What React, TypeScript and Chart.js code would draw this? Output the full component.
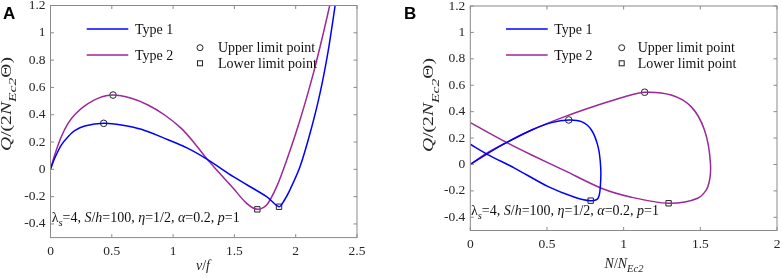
import React, { useEffect, useRef } from "react";
import { Chart, registerables } from "chart.js";
Chart.register(...registerables);

// ---------- data ----------
const yTicks = [-0.4, -0.2, 0, 0.2, 0.4, 0.6, 0.8, 1, 1.2];
const xTicksA = [0, 0.5, 1, 1.5, 2, 2.5];
const xTicksB = [0, 0.5, 1, 1.5, 2];

// Panel A: Q/(2N_Ec2 Θ) versus v/f
const aType1V = [0, 0.034, 0.088, 0.143, 0.197, 0.279, 0.434, 0.578, 0.741, 0.931, 1.121, 1.279, 1.491, 1.763, 1.864, 1.905, 1.953, 2.035, 2.117, 2.198, 2.266, 2.33];
const aType1Q = [0, 0.081, 0.178, 0.239, 0.283, 0.317, 0.337, 0.325, 0.293, 0.227, 0.154, 0.073, -0.054, -0.2, -0.274, -0.23, -0.15, 0.019, 0.264, 0.557, 0.874, 1.25];
const aType2V = [0, 0.034, 0.088, 0.143, 0.197, 0.279, 0.387, 0.51, 0.659, 0.795, 0.931, 1.067, 1.176, 1.279, 1.356, 1.491, 1.6, 1.687, 1.763, 1.845, 1.927, 2.035, 2.144, 2.225, 2.29];
const aType2Q = [0, 0.105, 0.239, 0.337, 0.4, 0.465, 0.52, 0.544, 0.52, 0.471, 0.398, 0.3, 0.19, 0.073, -0.005, -0.139, -0.249, -0.293, -0.261, -0.127, 0.068, 0.361, 0.703, 0.996, 1.25];
const aUpperV = [0.434, 0.51];
const aUpperQ = [0.337, 0.544];
const aLowerV = [1.864, 1.687];
const aLowerQ = [-0.274, -0.293];

// Panel B: Q/(2N_Ec2 Θ) versus N/N_Ec2
const bType1N = [0, 0.107, 0.226, 0.4, 0.53, 0.642, 0.725, 0.79, 0.833, 0.85, 0.848, 0.833, 0.785, 0.681, 0.508, 0.291, 0.107, 0];
const bType1Q = [0, 0.079, 0.16, 0.261, 0.317, 0.337, 0.324, 0.261, 0.135, -0.017, -0.168, -0.256, -0.274, -0.248, -0.168, -0.029, 0.079, 0.153];
const bType2N = [0, 0.107, 0.226, 0.4, 0.616, 0.833, 1.007, 1.137, 1.31, 1.44, 1.527, 1.566, 1.549, 1.483, 1.293, 1.05, 0.855, 0.616, 0.4, 0.226, 0];
const bType2Q = [0, 0.085, 0.16, 0.261, 0.362, 0.45, 0.513, 0.547, 0.526, 0.438, 0.261, 0.009, -0.168, -0.256, -0.294, -0.248, -0.18, -0.047, 0.072, 0.173, 0.317];
const bUpperN = [0.642, 1.137];
const bUpperQ = [0.337, 0.547];
const bLowerN = [0.785, 1.293];
const bLowerQ = [-0.274, -0.294];

const seriesNames = ["Type 1", "Type 2"];
const markerNames = ["Upper limit point", "Lower limit point"];
const BLUE = "#0000ff";
const PURPLE = "#9b2799";
const SERIF = '"Liberation Serif", "Times New Roman", serif';
const TXT = "#262626";

type Seg = { t: string; it?: boolean; sub?: boolean };

const yTitleSegs: Seg[] = [
  { t: "Q", it: true }, { t: "/(2" }, { t: "N", it: true }, { t: "Ec2", it: true, sub: true }, { t: "Θ)" },
];
const noteSegs: Seg[] = [
  { t: "λ" }, { t: "s", it: true, sub: true }, { t: "=4, " }, { t: "S", it: true }, { t: "/" }, { t: "h", it: true },
  { t: "=100, " }, { t: "η", it: true }, { t: "=1/2, " }, { t: "α", it: true }, { t: "=0.2, " }, { t: "p", it: true }, { t: "=1" },
];
const xTitleA: Seg[] = [{ t: "v", it: true }, { t: "/" }, { t: "f", it: true }];
const xTitleB: Seg[] = [{ t: "N", it: true }, { t: "/" }, { t: "N", it: true }, { t: "Ec2", it: true, sub: true }];

const zip = (xs: number[], ys: number[]) => xs.map((x, i) => ({ x, y: ys[i] }));
const fmt = (v: number) => String(Math.round(v * 10) / 10);

function segFont(s: Seg, size: number, subRatio: number) {
  const sz = s.sub ? size * subRatio : size;
  return `${s.it ? "italic " : ""}${sz}px ${SERIF}`;
}
function drawRich(
  ctx: CanvasRenderingContext2D,
  segs: Seg[],
  x: number,
  y: number,
  size: number,
  align: "left" | "center",
  subRatio = 0.75,
  subShift = 0.32
) {
  let total = 0;
  const ws = segs.map((s) => {
    ctx.font = segFont(s, size, subRatio);
    const w = ctx.measureText(s.t).width;
    total += w;
    return w;
  });
  let cx = align === "center" ? x - total / 2 : x;
  ctx.textAlign = "left";
  ctx.textBaseline = "alphabetic";
  segs.forEach((s, i) => {
    ctx.font = segFont(s, size, subRatio);
    ctx.fillText(s.t, cx, y + (s.sub ? size * subShift : 0));
    cx += ws[i];
  });
}

interface PanelCfg {
  offset: number;
  label: string;
  labelX: number;
  xMax: number;
  xTicks: number[];
  s1: { x: number; y: number }[];
  s2: { x: number; y: number }[];
  up: { x: number; y: number }[];
  lo: { x: number; y: number }[];
  plot: { left: number; right: number; top: number; bottom: number };
  leg: { l0: number; l1: number; tx: number; mx: number; mtx: number };
  yTitle: { x: number; y: number };
  xTitle: { x: number; y: number; segs: Seg[] };
  note: { x: number; y: number };
}

const W = 391;
const H = 278;

const panelA: PanelCfg = {
  offset: 0,
  label: "A",
  labelX: 3,
  xMax: 2.5,
  xTicks: xTicksA,
  s1: zip(aType1V, aType1Q),
  s2: zip(aType2V, aType2Q),
  up: zip(aUpperV, aUpperQ),
  lo: zip(aLowerV, aLowerQ),
  plot: { left: 50.5, right: 357, top: 5.5, bottom: 237.6 },
  leg: { l0: 86.7, l1: 128.3, tx: 135, mx: 200, mtx: 218 },
  yTitle: { x: 10.5, y: 104 },
  xTitle: { x: 203, y: 270, segs: xTitleA },
  note: { x: 51.7, y: 221.5 },
};
const panelB: PanelCfg = {
  offset: 391,
  label: "B",
  labelX: 13,
  xMax: 2,
  xTicks: xTicksB,
  s1: zip(bType1N, bType1Q),
  s2: zip(bType2N, bType2Q),
  up: zip(bUpperN, bUpperQ),
  lo: zip(bLowerN, bLowerQ),
  plot: { left: 79.3, right: 386.7, top: 6, bottom: 230.5 },
  leg: { l0: 115, l1: 156.7, tx: 163.3, mx: 230.7, mtx: 246.7 },
  yTitle: { x: 42, y: 105 },
  xTitle: { x: 233, y: 268, segs: xTitleB },
  note: { x: 80, y: 215 },
};

function Panel({ cfg }: { cfg: PanelCfg }) {
  const ref = useRef<HTMLCanvasElement>(null);
  useEffect(() => {
    const deco = {
      id: "deco",
      afterDraw(chart: any) {
        const ctx: CanvasRenderingContext2D = chart.ctx;
        const a = chart.chartArea;
        const xs = chart.scales.x;
        const ys = chart.scales.y;
        ctx.save();
        // box
        ctx.strokeStyle = "#8a8a8a";
        ctx.lineWidth = 1;
        ctx.strokeRect(a.left, a.top, a.right - a.left, a.bottom - a.top);
        const tl = 3.5;
        ctx.beginPath();
        cfg.xTicks.forEach((v) => {
          const px = xs.getPixelForValue(v);
          ctx.moveTo(px, a.bottom);
          ctx.lineTo(px, a.bottom - tl);
          ctx.moveTo(px, a.top);
          ctx.lineTo(px, a.top + tl);
        });
        yTicks.forEach((v) => {
          const py = ys.getPixelForValue(v);
          ctx.moveTo(a.left, py);
          ctx.lineTo(a.left + tl, py);
          ctx.moveTo(a.right, py);
          ctx.lineTo(a.right - tl, py);
        });
        ctx.stroke();

        // legend lines
        const L = cfg.leg;
        [29, 55].forEach((y, i) => {
          ctx.strokeStyle = i === 0 ? BLUE : PURPLE;
          ctx.lineWidth = 1.5;
          ctx.beginPath();
          ctx.moveTo(L.l0, y);
          ctx.lineTo(L.l1, y);
          ctx.stroke();
          ctx.font = `14px ${SERIF}`;
          ctx.textAlign = "left";
          ctx.textBaseline = "middle";
          ctx.fillStyle = "#111";
          ctx.fillText(seriesNames[i], L.tx, y + 1);
        });
        // marker legend
        ctx.strokeStyle = "#222";
        ctx.lineWidth = 1;
        ctx.beginPath();
        ctx.arc(L.mx, 47.7, 3, 0, Math.PI * 2);
        ctx.stroke();
        ctx.strokeRect(L.mx - 2.5, 63.3 - 2.5, 5, 5);
        ctx.font = `14px ${SERIF}`;
        ctx.textBaseline = "middle";
        ctx.fillStyle = "#111";
        ctx.fillText(markerNames[0], L.mtx, 48.5);
        ctx.fillText(markerNames[1], L.mtx, 64);

        // annotation
        ctx.fillStyle = "#111";
        drawRich(ctx, noteSegs, cfg.note.x, cfg.note.y, 14, "left");
        // x title
        ctx.fillStyle = TXT;
        drawRich(ctx, cfg.xTitle.segs, cfg.xTitle.x, cfg.xTitle.y, 14, "center");
        // y title (rotated, slightly stretched along its reading direction)
        ctx.save();
        ctx.translate(cfg.yTitle.x, cfg.yTitle.y);
        ctx.rotate(-Math.PI / 2);
        ctx.scale(1.4, 1);
        drawRich(ctx, yTitleSegs, 0, 0, 14, "center", 0.8, 0.4);
        ctx.restore();
        // panel label
        ctx.fillStyle = "#000";
        ctx.font = `bold 17px "Liberation Sans", Arial, sans-serif`;
        ctx.textAlign = "left";
        ctx.textBaseline = "alphabetic";
        ctx.fillText(cfg.label, cfg.labelX, 19);
        ctx.restore();
      },
    };

    const P = cfg.plot;
    const chart = new Chart(ref.current as HTMLCanvasElement, {
      type: "scatter",
      data: {
        datasets: [
          { data: cfg.s1, showLine: true, borderColor: BLUE, borderWidth: 1.5, pointRadius: 0, tension: 0.3, fill: false },
          { data: cfg.s2, showLine: true, borderColor: PURPLE, borderWidth: 1.5, pointRadius: 0, tension: 0.3, fill: false },
          { data: cfg.up, showLine: false, pointStyle: "circle", pointRadius: 3.3, borderColor: "#222", borderWidth: 1, backgroundColor: "rgba(0,0,0,0)" },
          { data: cfg.lo, showLine: false, pointStyle: "rect", pointRadius: 3.8, borderColor: "#222", borderWidth: 1, backgroundColor: "rgba(0,0,0,0)" },
        ],
      } as any,
      options: {
        animation: false,
        responsive: false,
        devicePixelRatio: 1,
        events: [],
        layout: { padding: { left: 0, top: P.top, right: W - P.right, bottom: 0 } },
        plugins: { legend: { display: false }, tooltip: { enabled: false } },
        scales: {
          x: {
            type: "linear",
            min: 0,
            max: cfg.xMax,
            grid: { display: false, drawTicks: false },
            border: { display: false },
            afterBuildTicks: (s: any) => {
              s.ticks = cfg.xTicks.map((v) => ({ value: v }));
            },
            afterFit: (s: any) => {
              s.height = H - P.bottom;
              s.paddingLeft = 0;
              s.paddingRight = 0;
              s.paddingTop = 0;
              s.paddingBottom = 0;
            },
            ticks: {
              padding: 6,
              color: TXT,
              font: { family: SERIF, size: 13.5 },
              maxRotation: 0,
              autoSkip: false,
              callback: (v: any) => fmt(Number(v)),
            },
          },
          y: {
            type: "linear",
            min: -0.5,
            max: 1.2,
            grid: { display: false, drawTicks: false },
            border: { display: false },
            afterBuildTicks: (s: any) => {
              s.ticks = yTicks.map((v) => ({ value: v }));
            },
            afterFit: (s: any) => {
              s.width = P.left;
              s.paddingLeft = 0;
              s.paddingRight = 0;
              s.paddingTop = 0;
              s.paddingBottom = 0;
            },
            ticks: {
              padding: 5,
              color: TXT,
              font: { family: SERIF, size: 13.5 },
              autoSkip: false,
              callback: (v: any) => fmt(Number(v)),
            },
          },
        },
      } as any,
      plugins: [deco],
    });
    return () => chart.destroy();
  }, [cfg]);
  return (
    <canvas
      ref={ref}
      width={W}
      height={H}
      style={{ position: "absolute", left: cfg.offset, top: 0, width: W, height: H, display: "block" }}
    />
  );
}

export default function App() {
  return (
    <div style={{ position: "fixed", left: 0, top: 0, width: 782, height: 278, background: "#fff", overflow: "hidden" }}>
      <Panel cfg={panelA} />
      <Panel cfg={panelB} />
    </div>
  );
}
